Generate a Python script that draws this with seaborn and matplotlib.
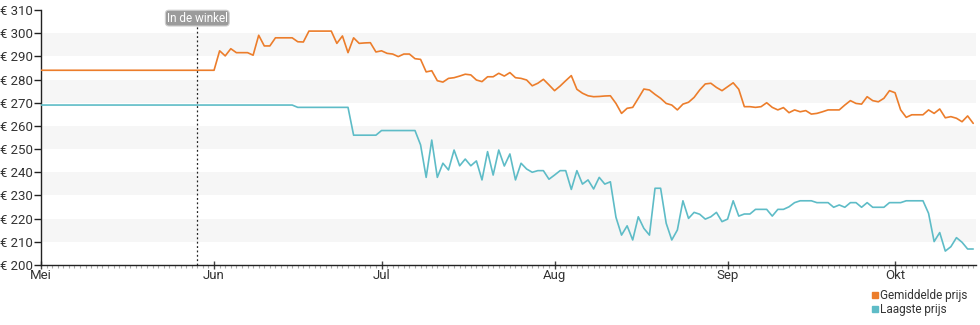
import matplotlib
matplotlib.use("Agg")
import matplotlib.pyplot as plt
import matplotlib.dates as mdates
from matplotlib.lines import Line2D
import seaborn as sns
import pandas as pd

# ---------------- data ----------------
start_date = "2023-05-01"
end_offset = 167.5            # axis end, days after start
store_day = 28                # "In de winkel" marker (days after start)
store_label = "In de winkel"

month_names = ["Jan", "Feb", "Mrt", "Apr", "Mei", "Jun", "Jul", "Aug", "Sep", "Okt", "Nov", "Dec"]

series_names = ["Gemiddelde prijs", "Laagste prijs"]

# Gemiddelde prijs: flat start, then daily values
avg_flat_days = [0, 31]
avg_flat_price = [284, 284]
avg_daily_start = 32
avg_daily = [
    292.4, 290.2, 293.3, 291.6, 291.6, 291.6, 290.5, 299.1, 294.5, 294.5,
    298.0, 298.0, 298.0, 298.0, 296.3, 296.2, 300.9, 300.9, 300.9, 300.9,
    300.9, 295.6, 298.8, 291.6, 298.0, 295.6, 295.8, 295.9, 291.9, 292.4,
    291.3, 291.0, 289.9, 291.0, 291.0, 289.0, 288.7, 283.3, 283.8, 279.5,
    278.9, 280.5, 280.8, 281.5, 282.3, 282.0, 279.8, 279.1, 281.2, 281.2,
    282.7, 281.5, 283.0, 280.8, 280.5, 279.8, 277.3, 278.4, 280.1, 277.7,
    275.2, 277.2, 279.5, 281.7, 275.8, 274.1, 273.0, 272.6, 272.7, 272.9,
    273.0, 269.7, 265.4, 267.6, 268.0, 271.9, 275.9, 275.5, 273.6, 271.9,
    269.7, 269.0, 266.9, 269.4, 270.2, 272.3, 275.5, 278.1, 278.4, 276.6,
    275.2, 276.9, 278.6, 275.8, 268.3, 268.3, 268.0, 268.3, 270.0, 268.0,
    266.9, 267.9, 265.7, 266.9, 266.1, 266.6, 265.1, 265.4, 266.1, 266.9,
    266.9, 266.9, 269.0, 270.9, 269.7, 269.4, 272.6, 270.9, 270.4, 271.9,
    275.2, 274.3, 266.9, 263.7, 264.8, 264.8, 264.8, 266.9, 265.4, 267.3,
    263.5, 264.0, 263.3, 261.8, 264.3, 261.1,
]

# Laagste prijs: step segments, then daily values
low_step_days = [0, 45, 46, 55, 56, 60, 61, 67]
low_step_price = [269, 269, 268, 268, 256, 256, 258, 258]
low_daily_start = 68
low_daily = [
    251.8, 237.8, 253.9, 237.8, 243.9, 241.0, 249.6, 242.8, 245.7, 242.8,
    244.9, 236.7, 248.9, 238.8, 249.6, 242.7, 247.9, 236.7, 243.9, 241.4,
    240.0, 240.7, 240.7, 237.0, 238.8, 240.7, 240.7, 232.6, 240.7, 234.9,
    236.7, 232.8, 237.8, 234.9, 235.9, 220.6, 212.9, 216.9, 210.8, 220.8,
    215.8, 212.9, 233.1, 233.1, 218.0, 210.8, 215.1, 227.7, 220.1, 222.7,
    221.9, 219.8, 220.8, 222.7, 218.7, 219.8, 227.7, 221.1, 222.0, 222.0,
    224.0, 224.0, 224.0, 221.1, 224.0, 224.0, 225.1, 226.9, 227.7, 227.7,
    227.7, 226.9, 226.9, 226.9, 224.9, 225.9, 224.9, 226.9, 226.9, 224.9,
    226.9, 224.9, 224.9, 224.9, 226.9, 226.9, 226.9, 227.7, 227.7, 227.7,
    227.7, 222.3, 210.1, 214.0, 206.0, 207.9, 211.8, 209.8, 206.9, 206.9,
]

y_ticks = [200, 210, 220, 230, 240, 250, 260, 270, 280, 290, 300, 310]

# ---------------- build frame ----------------
t0 = pd.Timestamp(start_date)
avg_days = avg_flat_days + list(range(avg_daily_start, avg_daily_start + len(avg_daily)))
avg_vals = avg_flat_price + avg_daily
low_days = low_step_days + list(range(low_daily_start, low_daily_start + len(low_daily)))
low_vals = low_step_price + low_daily

df = pd.concat([
    pd.DataFrame({"date": t0 + pd.to_timedelta(avg_days, unit="D"), "price": avg_vals, "series": series_names[0]}),
    pd.DataFrame({"date": t0 + pd.to_timedelta(low_days, unit="D"), "price": low_vals, "series": series_names[1]}),
])

colors = {series_names[0]: "#ec7d2b", series_names[1]: "#5ebcc7"}

# ---------------- plot ----------------
sns.set_style("white")
plt.rcParams["font.family"] = ["Roboto", "DejaVu Sans"]

fig = plt.figure(figsize=(9.8, 3.25), dpi=100)
ax = fig.add_axes([41 / 980, 1 - 265 / 325, 935 / 980, 255 / 325])

# alternating bands
for lo in y_ticks[1:-1:2]:
    ax.axhspan(lo, lo + 10, color="#f6f6f6", lw=0, zorder=0)

sns.lineplot(data=df, x="date", y="price", hue="series", palette=colors,
             ax=ax, legend=False, linewidth=1.2, estimator=None, sort=True, zorder=3)

ax.set_xlim(t0, t0 + pd.Timedelta(days=end_offset))
ax.set_ylim(y_ticks[0], y_ticks[-1])
ax.set_yticks(y_ticks)
ax.set_yticklabels([f"€ {v}" for v in y_ticks])

ax.xaxis.set_major_locator(mdates.MonthLocator())
ax.xaxis.set_major_formatter(plt.FuncFormatter(lambda x, pos: month_names[mdates.num2date(x).month - 1]))
ax.xaxis.set_minor_locator(mdates.DayLocator())

ax.set_xlabel("")
ax.set_ylabel("")
for s in ["top", "right"]:
    ax.spines[s].set_visible(False)
for s in ["left", "bottom"]:
    ax.spines[s].set_color("#222222")
    ax.spines[s].set_linewidth(1.0)

ax.tick_params(axis="y", which="major", direction="out", length=5, width=1, color="#222222",
               labelsize=9.5, labelcolor="#333333", pad=1, left=True)
ax.tick_params(axis="x", which="major", direction="inout", length=6, width=1, color="#444444",
               labelsize=9.5, labelcolor="#333333", pad=0, bottom=True)
ax.tick_params(axis="x", which="minor", direction="out", length=2.5, width=0.8, color="#aaaaaa", bottom=True)

# store marker
store_date = t0 + pd.Timedelta(days=store_day)
ax.axvline(store_date, ymin=0, ymax=(306 - y_ticks[0]) / (y_ticks[-1] - y_ticks[0]),
           color="#222222", lw=0.9, ls=(0, (1.5, 2)), zorder=4)
ax.text(store_date, 306.5, store_label, ha="center", va="center", color="white", fontsize=8.5,
        zorder=5,
        bbox=dict(boxstyle="round,pad=0.12,rounding_size=0.3", fc="#9b9b9b", ec="#d0d0d0", lw=0.8))

# legend
handles = [Line2D([], [], marker="s", ls="none", color=colors[n], markersize=5) for n in series_names]
fig.legend(handles, series_names, loc="upper left", bbox_to_anchor=(870 / 980, 1 - 289 / 325),
           frameon=False, fontsize=8.5, labelcolor="#333333", handletextpad=0.05,
           handlelength=0.8, borderpad=0, borderaxespad=0, labelspacing=0.1)

fig.savefig("out.png", dpi=100)
